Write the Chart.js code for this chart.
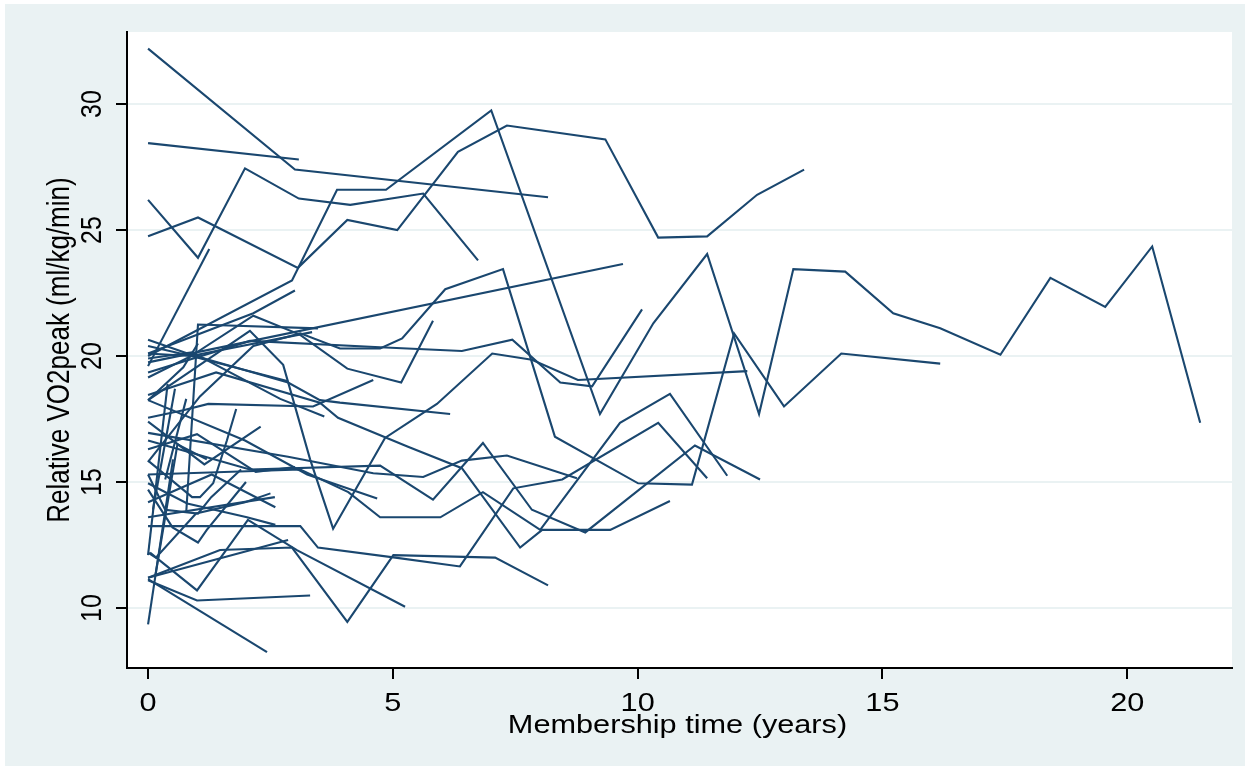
<!DOCTYPE html>
<html>
<head>
<meta charset="utf-8">
<title>Relative VO2peak by membership time</title>
<script src="https://cdn.jsdelivr.net/npm/chart.js@4/dist/chart.umd.min.js"></script>
<style>
  html, body { margin: 0; padding: 0; background: #ffffff; }
  #wrap { width: 1250px; height: 770px; position: relative; }
</style>
</head>
<body>
<div id="wrap"><canvas id="c" width="1250" height="770"></canvas></div>
<script>
// Each participant: [membership time (years), relative VO2peak (ml/kg/min)] per test
const p01 = [[0,32.2],[3.0,27.4],[8.17,26.3]];
const p02 = [[0,28.45],[3.08,27.8]];
const p03 = [[0,26.2],[1.02,23.9],[1.98,27.45],[3.08,26.25],[4.13,26.0],[5.62,26.45],[6.74,23.8]];
const p04 = [[0,24.75],[1.02,25.5],[3.06,23.5],[4.07,25.4],[5.09,25.0],[6.33,28.1],[7.33,29.15],[9.34,28.6],[10.42,24.7],[11.42,24.75],[12.44,26.4],[13.4,27.4]];
const p05 = [[0,20.0],[2.94,23.0],[3.86,26.6],[4.86,26.6],[7.01,29.75],[9.23,17.7],[10.32,21.3],[11.42,24.05],[12.48,17.7],[13.18,23.45],[14.24,23.35],[15.22,21.7],[16.18,21.1],[17.41,20.05],[18.43,23.1],[19.55,21.95],[20.51,24.35],[21.49,17.35]];
const p06 = [[0,19.6],[1.25,24.25]];
const p07 = [[0,19.75],[9.7,23.65]];
const p08 = [[0,15.8],[1.06,18.4],[2.15,20.4],[3.11,20.9],[3.92,20.3],[4.74,20.3],[5.19,20.7],[6.07,22.65],[7.25,23.45],[8.31,16.8],[10.01,14.95],[11.11,14.9],[11.97,20.9],[12.99,18.0],[14.16,20.1],[16.18,19.7]];
const p09 = [[0,19.35],[2.08,20.6],[4.74,20.35],[6.41,20.2],[7.44,20.65],[8.42,18.95],[9.07,18.8],[10.09,21.85]];
const p10 = [[0,18.25],[2.08,21.0],[2.76,19.65],[3.31,15.9],[3.78,13.15],[4.84,16.75],[5.9,18.1],[7.03,20.1],[7.84,19.85],[8.78,19.05],[12.24,19.4]];
const p11 = [[0,20.65],[0.88,20.05],[2.86,18.95],[3.51,18.25],[3.92,18.15],[6.17,17.7]];
const p12 = [[0,17.55],[0.72,17.85],[1.23,18.1],[3.37,18.0],[4.6,19.05]];
const p13 = [[0,20.1],[0.88,20.0],[2.15,21.6],[3.1,20.85],[4.07,19.5],[5.17,18.95],[5.82,21.4]];
const p14 = [[0,18.45],[1.39,19.35],[3.51,18.15],[3.88,17.55],[5.31,16.4],[6.41,15.55],[7.6,12.4],[8.05,13.1],[9.44,13.1],[10.66,14.25]];
const p15 = [[0,16.95],[2.86,16.0],[4.6,15.35],[5.62,15.2],[6.41,15.85],[7.33,16.05],[8.76,15.15]];
const p16 = [[0,16.65],[2.08,15.5],[4.74,15.65],[5.82,14.3],[6.84,16.55],[7.84,13.9],[8.93,13.0],[11.17,16.45],[12.5,15.1]];
const p17 = [[0,15.3],[3.11,15.5],[4.09,14.6],[4.74,13.6],[5.97,13.6],[6.84,14.6],[8.01,13.1],[9.64,17.35],[10.66,18.5],[11.83,15.25]];
const p18 = [[0,13.25],[3.11,13.25],[3.47,12.4],[5.05,12.0],[6.37,11.65],[7.46,14.75],[8.46,15.1],[10.42,17.35],[11.42,15.15]];
const p19 = [[0.04,12.2],[1.0,10.7],[2.04,13.5],[3.04,12.3],[5.25,10.05]];
const p20 = [[0,11.2],[1.47,12.3],[2.94,12.4],[4.07,9.45],[5.01,12.1],[7.09,12.0],[8.17,10.9]];
const p21 = [[0,11.1],[1.0,10.3],[3.31,10.5]];
const p22 = [[0,11.15],[2.43,8.25]];
const p23 = [[0,9.35],[0.51,15.9]];
const p24 = [[0,13.6],[2.59,14.4]];
const p25 = [[0,18.25],[1.98,16.65],[3.25,15.3],[4.68,14.35]];
const p26 = [[0,15.85],[0.9,14.4],[1.06,14.4],[1.33,14.95],[1.61,16.65],[1.8,17.9]];
const p27 = [[0,14.95],[0.8,14.15],[2.02,13.6],[2.6,13.3]];
const p28 = [[0,12.2],[0.16,12.0],[0.98,13.75],[1.98,14.2],[2.5,14.55]];
const p29 = [[0,11.2],[2.86,12.7]];
const p30 = [[0,12.1],[0.4,18.9]];
const p31 = [[0.78,13.8],[1.02,21.25],[3.47,21.1]];
const p32 = [[0.35,15.1],[0.78,18.3]];
const p33 = [[0,20.1],[2.15,21.7],[3.0,22.6]];
const p34 = [[0,18.25],[0.72,19.55],[1.02,20.5]];
const p35 = [[0,15.3],[0.35,13.9],[1.02,13.75],[1.29,14.4],[1.9,15.5]];
const p36 = [[0,14.7],[0.5,13.2],[1.02,12.6],[1.2,13.1],[2.0,15.0]];
const p37 = [[0,19.15],[0.88,20.0],[2.86,19.0]];
const p38 = [[0,20.4],[0.88,20.0],[3.35,20.95]];
const p39 = [[0,19.9],[0.9,20.15],[2.7,18.3],[3.6,17.6]];
const p40 = [[0,17.4],[1.15,15.7],[2.3,17.2]];
const p41 = [[0.1,13.9],[0.55,18.7]];
const p42 = [[0.15,11.3],[0.6,16.5],[1.2,15.9]];
const p43 = [[0,16.3],[1.0,16.9],[2.2,15.4],[3.0,15.6]];
const p44 = [[0,14.2],[1.3,15.3],[2.6,14.0]];

const participants = [p01,p02,p03,p04,p05,p06,p07,p08,p09,p10,p11,p12,p13,p14,p15,p16,p17,p18,p19,
  p20,p21,p22,p23,p24,p25,p26,p27,p28,p29,p30,p31,p32,p33,p34,p35,p36,p37,p38,p39,p40,p41,p42,p43,p44];

const xTicks = [0, 5, 10, 15, 20];
const yTicks = [10, 15, 20, 25, 30];
const xTitle = 'Membership time (years)';
const yTitle = 'Relative VO2peak (ml/kg/min)';

const LINE = '#1a476f';
const OUTER = '#eaf2f3';
const FONT = '"Liberation Sans", Arial, sans-serif';

// Text drawn with a slight horizontal stretch, like the exported graph
function stretchedText(ctx, text, x, y, rotate, size) {
  ctx.save();
  ctx.translate(x, y);
  if (rotate) { ctx.rotate(-Math.PI / 2); ctx.scale(1, 1.18); }
  else { ctx.scale(1.18, 1); }
  ctx.font = size + 'px ' + FONT;
  ctx.fillStyle = '#000';
  ctx.textAlign = 'center';
  ctx.textBaseline = 'alphabetic';
  ctx.fillText(text, 0, 0);
  ctx.restore();
}

const frame = {
  id: 'frame',
  beforeDraw(chart) {
    const { ctx, chartArea: a, width, height } = chart;
    ctx.save();
    ctx.fillStyle = '#ffffff';
    ctx.fillRect(0, 0, width, height);
    ctx.fillStyle = OUTER;
    ctx.fillRect(5, 4, width - 10, height - 8);
    ctx.fillStyle = '#ffffff';
    ctx.fillRect(a.left, a.top, a.right - a.left, a.bottom - a.top);
    ctx.restore();
  },
  afterDraw(chart) {
    const { ctx, chartArea: a } = chart;
    const xs = chart.scales.x, ys = chart.scales.y;
    ctx.save();
    ctx.strokeStyle = '#000';
    ctx.lineWidth = 2;
    ctx.beginPath();
    yTicks.forEach(v => { const p = Math.round(ys.getPixelForValue(v)); ctx.moveTo(a.left - 11, p); ctx.lineTo(a.left, p); });
    xTicks.forEach(v => { const p = Math.round(xs.getPixelForValue(v)); ctx.moveTo(p, a.bottom); ctx.lineTo(p, a.bottom + 11); });
    ctx.stroke();
    ctx.restore();
    yTicks.forEach(v => stretchedText(ctx, String(v), a.left - 26, ys.getPixelForValue(v), true, 25));
    xTicks.forEach(v => stretchedText(ctx, String(v), xs.getPixelForValue(v), a.bottom + 43, false, 26));
    stretchedText(ctx, xTitle, (a.left + a.right) / 2 - 2, a.bottom + 65, false, 26);
    stretchedText(ctx, yTitle, a.left - 58, (a.top + a.bottom) / 2, true, 26);
  }
};

new Chart(document.getElementById('c'), {
  type: 'line',
  data: {
    datasets: participants.map((p, i) => ({
      label: 'id' + (i + 1),
      data: p.map(([x, y]) => ({ x, y })),
      borderColor: LINE,
      borderWidth: 2.1,
      pointRadius: 0,
      fill: false,
      tension: 0
    }))
  },
  options: {
    responsive: false,
    animation: false,
    events: [],
    layout: { padding: { top: 32, right: 18, left: 0, bottom: 0 } },
    plugins: { legend: { display: false }, tooltip: { enabled: false } },
    scales: {
      x: {
        type: 'linear',
        min: -0.43,
        max: 22.14,
        afterBuildTicks: s => { s.ticks = xTicks.map(v => ({ value: v })); },
        afterFit: s => { s.height = 102; },
        ticks: { display: false },
        grid: { display: false },
        border: { display: true, color: '#000', width: 2 }
      },
      y: {
        type: 'linear',
        min: 7.62,
        max: 32.86,
        afterBuildTicks: s => { s.ticks = yTicks.map(v => ({ value: v })); },
        afterFit: s => { s.width = 127; },
        ticks: { display: false },
        grid: { display: true, color: OUTER, lineWidth: 2, drawTicks: false },
        border: { display: true, color: '#000', width: 2 }
      }
    }
  },
  plugins: [frame]
});
</script>
</body>
</html>
